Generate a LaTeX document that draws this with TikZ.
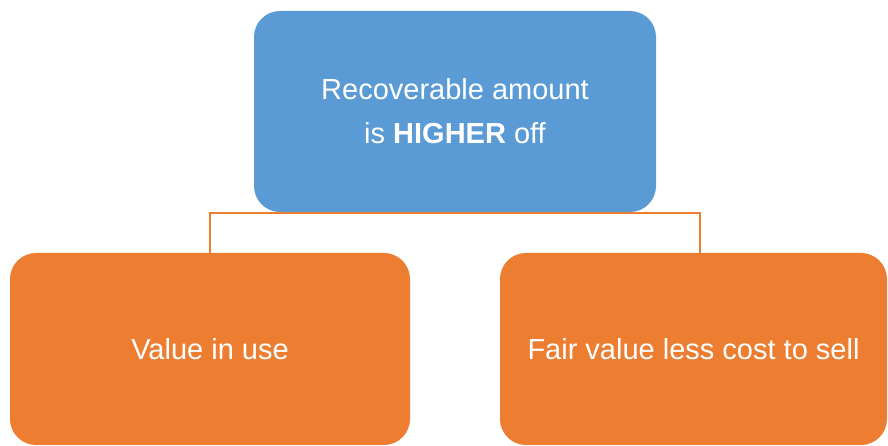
\documentclass[tikz,border=0pt]{standalone}
\usepackage{fontspec}
\setmainfont{Liberation Sans}
\usetikzlibrary{backgrounds}
\definecolor{boxblue}{HTML}{5B9BD5}
\definecolor{boxorange}{HTML}{ED7D31}
\begin{document}
\begin{tikzpicture}[x=1pt,y=1pt,
	box/.style={rectangle,rounded corners=26pt,text=white,align=center,inner sep=0pt,font=\fontsize{29}{44}\selectfont},
	link/.style={draw=boxorange,line width=2pt}]
	\useasboundingbox (0,0) rectangle (888,446);
	\node[box,fill=boxblue,minimum width=402pt,minimum height=201pt] (amount) at (455,334.5) {Recoverable amount\\is \textbf{HIGHER} off};
	\node[box,fill=boxorange,minimum width=400pt,minimum height=192pt] (use) at (210,97) {Value in use};
	\node[box,fill=boxorange,minimum width=387pt,minimum height=192pt] (sell) at (693.5,97) {Fair value less cost to sell};
	\begin{scope}[on background layer]
	\draw[link] (use.north) |- ([yshift=-0.5pt]amount.south) -| ([xshift=6.5pt]sell.north);
	\end{scope}
	\end{tikzpicture}
\end{document}
